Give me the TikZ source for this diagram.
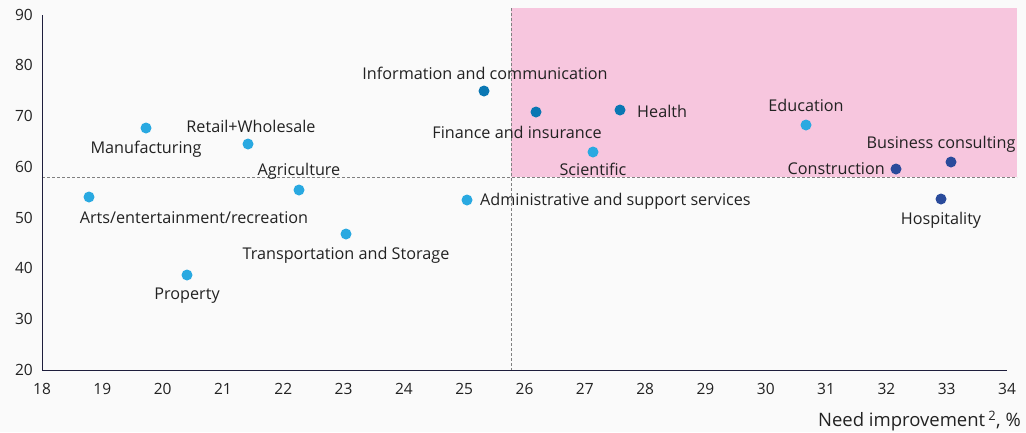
\documentclass[tikz,border=0pt]{standalone}
\usepackage{fontspec}
\setmainfont{Open Sans}
\definecolor{bgc}{HTML}{FAFAFA}
\definecolor{pinkc}{HTML}{F7C6DE}
\definecolor{lblue}{HTML}{29A9E1}
\definecolor{mblue}{HTML}{0A77B3}
\definecolor{dblue}{HTML}{2A4B9B}
\definecolor{axisc}{HTML}{1E1E3C}
\definecolor{txtc}{HTML}{222222}
\definecolor{dashc}{HTML}{808080}
\tikzset{
  dotl/.style={circle,fill=lblue,inner sep=0pt,minimum size=11pt},
  dotm/.style={circle,fill=mblue,inner sep=0pt,minimum size=11pt},
  dotd/.style={circle,fill=dblue,inner sep=0pt,minimum size=11pt},
  lbl/.style={font=\fontsize{16.2}{17}\selectfont,text=txtc,inner sep=0pt},
  tick/.style={font=\fontsize{15.5}{16}\selectfont,text=txtc,inner sep=0pt},
  guide/.style={dashc,dashed,line width=0.9pt,dash pattern=on 3pt off 2pt}
}
\begin{document}
\begin{tikzpicture}[x=1pt,y=-1pt]
\fill[bgc] (0,0) rectangle (1026,432);
\useasboundingbox (0,0) rectangle (1026,432);
% pink region
\fill[pinkc] (511,8) rectangle (1017,177);
% guides
\coordinate (hg1) at (42,177);
\coordinate (hg2) at (1017,177);
\coordinate (vg1) at (511,8);
\coordinate (vg2) at (511,370);
\draw[guide] (hg1) -- (hg2);
\draw[guide] (vg1) -- (vg2);
% axes
\coordinate (o) at (42,370);
\coordinate (yt) at (42,15);
\coordinate (xr) at (1007,370);
\draw[axisc,line width=0.9pt] (yt) -- (o) -- (xr);
% y tick labels
\foreach \v [count=\i from 0] in {20,30,40,50,60,70,80,90}
  \node[tick,anchor=east] (yl\v) at (33,{370-\i*50.786}) {\v};
% x tick labels
\foreach \v [count=\i from 0] in {18,19,...,34}
  \node[tick] (xl\v) at ({42+\i*60.3125},389) {\v};
\node[tick,anchor=east,font=\fontsize{18.5}{19}\selectfont] (xlabel) at (1021,421) {Need improvement\,\textsuperscript{2}, \%};
% dots
\node[dotm] (info) at (484,91) {};
\node[dotm] (fin) at (536,112) {};
\node[dotm] (health) at (620,110) {};
\node[dotl] (sci) at (593,152) {};
\node[dotl] (edu) at (806,125) {};
\node[dotd] (bus) at (951,162) {};
\node[dotd] (cons) at (896,169) {};
\node[dotd] (hosp) at (941,199) {};
\node[dotl] (manu) at (146,128) {};
\node[dotl] (retail) at (248,144) {};
\node[dotl] (arts) at (89,197) {};
\node[dotl] (agri) at (299,190) {};
\node[dotl] (admin) at (467,200) {};
\node[dotl] (trans) at (346,234) {};
\node[dotl] (prop) at (187,275) {};
% labels
\node[lbl] (infol) at (485,73) {Information and communication};
\node[lbl] (finl) at (517,132) {Finance and insurance};
\node[lbl,anchor=west] (healthl) at (637,111) {Health};
\node[lbl] (scil) at (593,169) {Scientific};
\node[lbl] (edul) at (806,105) {Education};
\node[lbl] (busl) at (941,144) {Business consulting};
\node[lbl,anchor=east] (consl) at (885,169) {Construction};
\node[lbl] (hospl) at (941,220) {Hospitality};
\node[lbl] (manul) at (146,149) {Manufacturing};
\node[lbl] (retaill) at (251,126) {Retail+Wholesale};
\node[lbl] (agril) at (299,171) {Agriculture};
\node[lbl] (artsl) at (194,218) {Arts/entertainment/recreation};
\node[lbl,anchor=west] (adminl) at (480,201) {Administrative and support services};
\node[lbl] (transl) at (346,255) {Transportation and Storage};
\node[lbl] (propl) at (187,296) {Property};
\end{tikzpicture}
\end{document}
